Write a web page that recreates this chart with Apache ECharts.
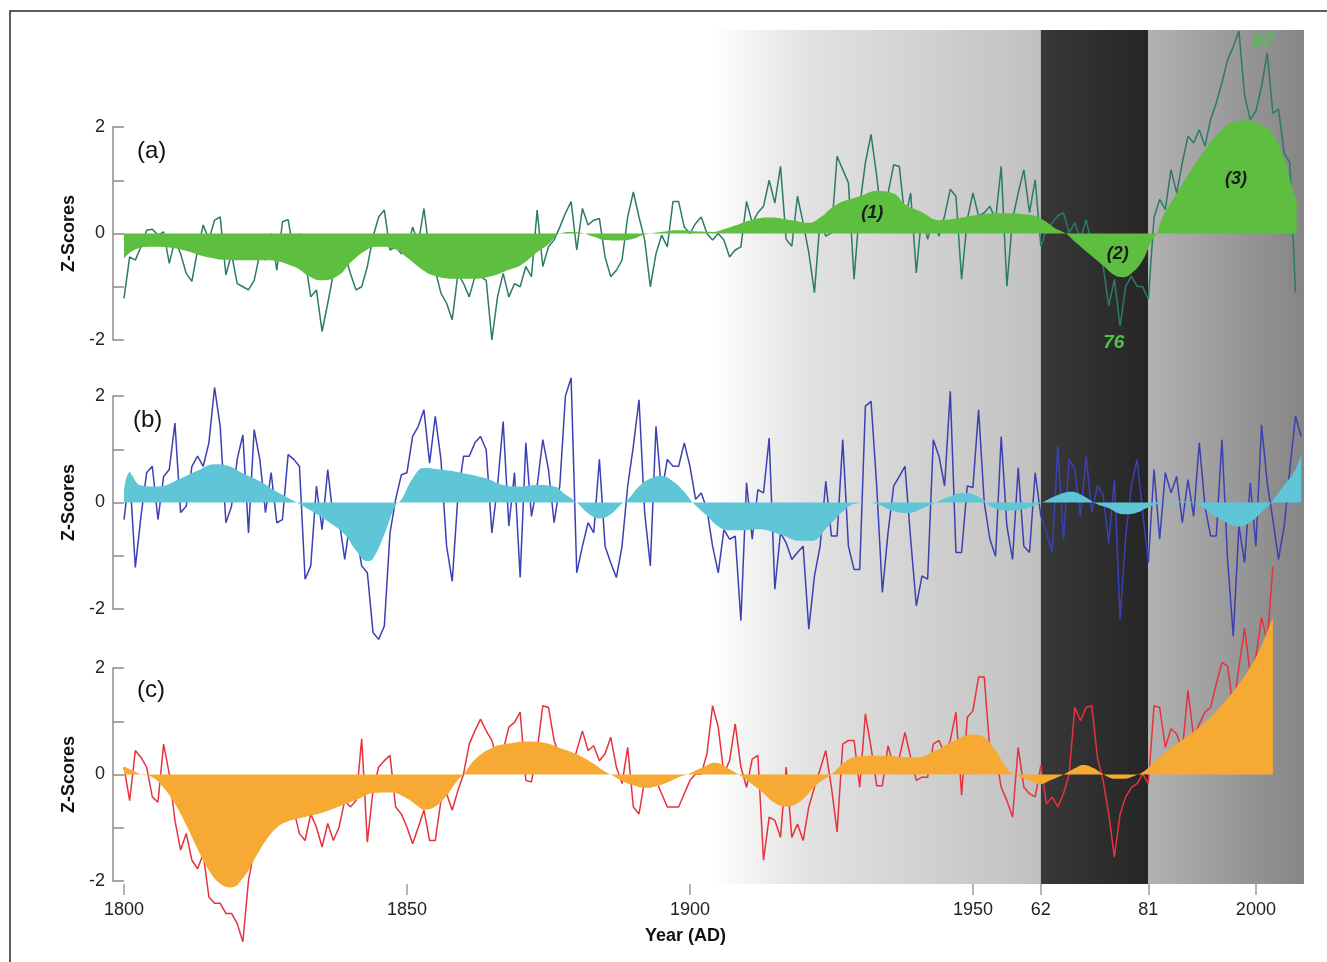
<!DOCTYPE html>
<html>
<head>
<meta charset="utf-8">
<script src="https://cdn.jsdelivr.net/npm/echarts@6/dist/echarts.min.js"></script>
<style>
html,body{margin:0;padding:0;background:#fff;}
#chart{width:1327px;height:962px;}
</style>
</head>
<body>
<div id="chart"></div>
<script>
// ---------- DATA ----------
const startYear = 1800;
const xTicks = [1800, 1850, 1900, 1950, 1962, 1981, 2000];
const yTicks = [-2, -1, 0, 1, 2];

// (a) annual z-scores 1800-2007
const rawA = [
 -1.22,-0.44,-0.5,-0.25,0.06,0.08,-0.03,0.03,-0.56,-0.12,
 -0.38,-0.75,-0.9,-0.31,0.16,-0.12,0.25,0.31,-0.78,-0.38,
 -0.94,-1.0,-1.06,-0.88,-0.38,-0.5,0.0,-0.69,0.22,0.26,
 -0.38,0.0,-0.5,-1.19,-1.06,-1.84,-1.31,-0.75,-0.44,-0.38,
 -0.75,-1.06,-1.0,-0.62,-0.06,0.31,0.44,-0.31,-0.25,-0.38,
 -0.31,0.12,-0.19,0.47,-0.38,-0.69,-1.12,-1.31,-1.62,-0.75,
 -0.94,-1.19,-0.81,-0.81,-0.88,-2.0,-1.19,-0.75,-1.19,-0.94,
 -1.0,-0.62,-0.81,0.44,-0.62,-0.25,-0.12,0.12,0.38,0.6,
 -0.31,0.47,0.16,0.25,0.28,-0.44,-0.81,-0.69,-0.5,0.31,
 0.78,0.31,-0.12,-1.0,-0.38,-0.03,-0.25,0.6,0.6,0.12,
 0.0,0.19,0.31,0.0,-0.12,0.0,-0.12,-0.44,-0.31,-0.25,
 0.6,0.2,0.39,0.51,1.0,0.57,1.26,-0.11,-0.24,0.7,
 0.2,-0.36,-1.11,0.26,-0.05,0.01,1.45,1.2,0.95,-0.86,
 0.51,1.33,1.86,1.08,0.14,0.76,1.29,1.26,0.26,0.76,
 -0.74,0.39,-0.11,0.26,-0.05,0.33,0.83,0.7,-0.86,0.26,
 0.76,0.33,0.39,0.51,0.26,1.26,-0.99,0.26,0.76,1.2,
 0.39,1.01,-0.24,0.08,0.2,0.33,0.39,0.01,0.2,-0.11,
 0.26,-0.24,-0.36,-0.61,-1.36,-0.86,-1.74,-0.99,-0.8,-0.99,
 -1.0,-1.24,0.3,0.64,0.45,1.2,0.76,1.33,1.83,1.7,
 1.95,1.64,2.14,2.45,2.83,3.26,3.51,3.8,2.6,2.14,
 2.3,2.76,3.39,2.26,2.33,1.51,1.33,-1.11
];
// (a) smoothed curve [year, z]
const smoothA = [
 [1800,-0.47],[1802,-0.3],[1805,-0.25],[1810,-0.3],[1815,-0.45],[1820,-0.5],[1825,-0.5],
 [1830,-0.62],[1833,-0.82],[1835,-0.88],[1838,-0.78],[1840,-0.55],[1843,-0.3],[1845,-0.25],
 [1848,-0.3],[1850,-0.45],[1853,-0.7],[1855,-0.8],[1858,-0.85],[1862,-0.85],[1865,-0.8],
 [1868,-0.68],[1870,-0.6],[1873,-0.35],[1875,-0.2],[1877,0],[1879,0.03],[1881,0.01],
 [1883,-0.06],[1885,-0.12],[1888,-0.13],[1890,-0.1],[1892,-0.02],[1895,0.03],[1898,0.06],
 [1901,0.04],[1904,0.03],[1906,0.08],[1908,0.15],[1911,0.26],[1914,0.3],[1918,0.25],
 [1921,0.2],[1923,0.3],[1926,0.55],[1930,0.7],[1933,0.8],[1936,0.75],[1938,0.55],
 [1941,0.4],[1944,0.25],[1947,0.28],[1951,0.35],[1955,0.38],[1960,0.35],[1962.5,0.25],
 [1964.5,0.1],[1966.4,0],[1968,-0.15],[1970.5,-0.38],[1973,-0.6],[1975,-0.78],[1976.5,-0.82],
 [1978,-0.75],[1980,-0.5],[1981.5,-0.15],[1982.5,0],[1983.5,0.3],[1986,0.75],[1988,1.1],
 [1990.5,1.5],[1993.5,1.9],[1996.3,2.1],[1998.4,2.12],[2000.6,2.05],[2002.7,1.9],
 [2004.8,1.45],[2006.2,0.95],[2007.2,0.6]
];

// (b) annual z-scores 1800-2008
const rawB = [
 -0.32,0.56,-1.22,-0.26,0.56,0.68,-0.32,0.49,0.62,1.49,
 -0.19,-0.07,0.68,0.87,0.68,1.12,2.16,1.43,-0.38,-0.07,
 0.81,1.27,-0.57,1.37,0.81,-0.19,0.56,-0.38,-0.32,0.9,
 0.81,0.68,-1.44,-1.19,0.31,-0.51,0.62,-0.32,-0.32,-1.07,
 -0.32,-0.57,-1.19,-1.32,-2.44,-2.57,-2.32,-0.57,0.06,0.52,
 0.56,1.24,1.43,1.74,0.74,1.62,0.81,-0.82,-1.48,0.12,
 0.87,0.87,1.12,1.24,0.99,-0.57,0.31,1.52,-0.44,0.56,
 -1.41,1.12,-0.26,0.31,1.18,0.62,-0.38,0.31,2.0,2.34,
 -1.32,-0.82,-0.38,-0.57,0.81,-0.82,-1.13,-1.41,-0.82,0.31,
 1.06,1.93,-0.19,-1.19,1.43,0.18,0.81,0.68,0.68,1.12,
 0.68,0.06,0.18,-0.13,-0.82,-1.32,-0.51,-0.69,-0.63,-2.22,
 0.37,-0.69,0.24,0.18,1.21,-1.63,-0.57,-0.76,-1.07,-0.94,
 -0.82,-2.38,-1.38,-0.82,0.4,-0.63,-0.63,1.18,-0.82,-1.26,
 -1.26,1.81,1.9,0.31,-1.69,-0.57,0.31,0.49,0.68,-0.69,
 -1.94,-1.38,-1.44,1.18,0.87,0.31,2.09,-0.94,-0.94,0.31,
 0.28,1.74,0.0,-0.69,-1.01,1.24,-0.44,-1.07,0.65,-0.82,
 -0.94,0.56,-0.25,-0.57,-0.94,1.06,-0.69,0.81,0.62,-0.26,
 0.87,-0.19,0.31,0.15,-0.76,0.43,-2.19,-0.63,0.31,0.81,
 -0.19,-1.13,0.62,-0.69,0.56,0.18,0.49,-0.38,0.43,-0.26,
 1.12,-0.07,-0.63,-0.63,1.18,-1.07,-2.51,-0.44,-1.13,0.37,
 -0.82,1.46,0.37,-0.32,-1.07,-0.44,0.62,1.62,1.24
];
const smoothB = [
 [1800,0.2],[1801,0.55],[1803,0.32],[1806,0.3],[1810,0.45],[1813,0.6],[1816,0.72],
 [1818,0.7],[1821,0.55],[1824,0.4],[1827,0.2],[1830.5,0],[1833,-0.15],[1836,-0.35],
 [1839,-0.6],[1841,-0.9],[1843,-1.1],[1844,-1.05],[1846,-0.6],[1848,-0.05],[1849,0.05],
 [1851,0.45],[1853,0.65],[1856,0.62],[1860,0.55],[1864,0.45],[1867,0.33],[1870,0.3],
 [1873,0.33],[1876,0.3],[1878,0.15],[1880,0],[1882,-0.2],[1884,-0.3],[1886,-0.22],
 [1888,-0.02],[1889,0.05],[1891,0.3],[1893,0.45],[1895,0.5],[1897,0.4],[1899,0.2],
 [1900.5,0],[1903,-0.25],[1905,-0.45],[1907,-0.52],[1909,-0.52],[1912,-0.5],[1916,-0.6],
 [1919.5,-0.72],[1921.5,-0.72],[1924.4,-0.45],[1927.2,-0.15],[1929.3,-0.02],[1931.5,0],
 [1933.6,-0.05],[1935.7,-0.15],[1938.5,-0.2],[1941.3,-0.1],[1943.4,0],[1945.6,0.1],
 [1948.4,0.18],[1951.2,0.1],[1953.3,-0.08],[1956.1,-0.15],[1959,-0.12],[1961.8,-0.02],
 [1964.6,0.12],[1967.4,0.2],[1969.5,0.12],[1971.7,-0.02],[1973.8,-0.1],[1976.6,-0.22],
 [1978.7,-0.2],[1980.8,-0.1],[1982.9,-0.02],[1985,0.02],[1987.9,0.02],[1990,-0.05],
 [1992.1,-0.2],[1994.9,-0.38],[1997,-0.45],[1999.2,-0.35],[2001.3,-0.15],[2002.7,0],
 [2004.8,0.3],[2006.9,0.6],[2008,0.9]
];

// (c) annual z-scores 1800-2003
const rawC = [
 0.14,-0.49,0.45,0.32,0.14,-0.42,-0.52,0.57,0.01,-0.86,
 -1.42,-1.11,-1.61,-1.77,-1.49,-2.3,-2.42,-2.42,-2.61,-2.61,
 -2.8,-3.14,-1.99,-1.42,-1.17,-1.11,-1.05,-0.74,-0.86,-0.74,
 -0.67,-1.11,-1.24,-0.74,-0.99,-1.36,-0.92,-1.24,-0.99,-0.49,
 -0.61,-0.49,0.67,-1.27,-0.3,0.14,0.26,0.36,-0.61,-0.74,
 -0.99,-1.3,-0.99,-0.67,-1.24,-1.24,-0.49,-0.36,-0.67,-0.3,
 0.01,0.57,0.82,1.04,0.82,0.64,0.26,0.45,0.89,0.98,
 1.17,-0.11,-0.14,0.45,1.29,1.26,0.64,0.32,0.39,0.07,
 0.45,0.82,0.45,0.54,0.26,0.39,0.7,0.14,-0.17,0.51,
 -0.61,-0.74,-0.11,-0.24,-0.11,-0.36,-0.61,-0.61,-0.61,-0.36,
 -0.11,0.01,0.01,0.39,1.29,0.89,0.01,0.26,0.95,0.14,
 -0.24,0.29,0.36,-1.61,-0.8,-0.86,-1.18,0.14,-1.18,-0.93,
 -1.24,-0.61,-0.24,0.1,0.45,-0.24,-1.08,0.57,0.64,0.64,
 -0.24,1.14,0.51,-0.21,-0.21,0.54,0.14,0.32,0.79,0.32,
 -0.11,-0.05,-0.05,0.57,0.64,0.39,0.64,1.17,-0.39,1.07,
 1.2,1.83,1.83,0.45,0.39,-0.24,-0.49,-0.8,0.51,-0.24,
 -0.36,-0.42,0.17,-0.55,-0.42,-0.61,-0.36,0.01,1.26,1.01,
 1.26,1.29,0.32,-0.11,-0.74,-1.55,-0.74,-0.42,-0.24,-0.17,
 0.01,-0.17,1.29,1.26,0.51,0.86,0.76,0.45,1.58,0.7,
 0.95,1.17,1.26,1.7,2.1,2.04,1.23,2.01,2.75,1.9,
 2.2,2.95,2.5,3.9
];
const smoothC = [
 [1800,0.15],[1802,0.05],[1803,0],[1805,-0.05],[1807,-0.25],[1809,-0.55],[1811,-0.95],
 [1813,-1.4],[1815,-1.8],[1817,-2.05],[1819,-2.12],[1821,-1.95],[1823,-1.6],[1825,-1.25],
 [1827,-1.0],[1829,-0.88],[1832,-0.8],[1835,-0.72],[1838,-0.6],[1841,-0.48],[1844,-0.35],
 [1847,-0.34],[1850,-0.45],[1852,-0.6],[1853,-0.66],[1855,-0.6],[1857,-0.4],[1859,-0.1],
 [1860,0],[1862,0.28],[1865,0.5],[1868,0.58],[1871,0.62],[1874,0.6],[1877,0.5],[1880,0.38],
 [1883,0.2],[1885,0.05],[1886,0],[1888,-0.12],[1890,-0.2],[1892,-0.25],[1894,-0.22],
 [1896,-0.15],[1898,-0.05],[1899.5,0],[1902,0.12],[1904.5,0.22],[1907,0.1],[1909,-0.03],
 [1912.4,-0.3],[1915.2,-0.55],[1917,-0.6],[1919.5,-0.5],[1922.3,-0.2],[1925,0],
 [1927.2,0.22],[1929.3,0.33],[1932.9,0.35],[1936.4,0.34],[1939.9,0.32],[1943.4,0.45],
 [1947,0.65],[1949.8,0.75],[1951.9,0.7],[1954,0.45],[1956.1,0.1],[1957.5,0],[1959.7,-0.1],
 [1961.8,-0.18],[1963.9,-0.1],[1966,0],[1968.1,0.12],[1969.5,0.18],[1971.3,0.12],
 [1973.1,0],[1975.2,-0.08],[1976.6,-0.08],[1978.7,-0.02],[1980.1,0.05],[1982.2,0.25],
 [1985,0.5],[1987.9,0.72],[1990.7,0.95],[1993.5,1.25],[1996.3,1.6],[1999.2,2.05],
 [2001.3,2.5],[2003,2.95]
];

// shaded periods [from, to]
const periodFade = [1800, 1962];
const periodDark = [1962, 1981];
const periodLate = [1981, 2008.5];
const xMin = 1800, xMax = 2008.5;

// annotations [label, year, z]
const notesA = [['(1)', 1932.2, 0.38], ['(2)', 1975.6, -0.39], ['(3)', 1996.5, 1.03]];
const peakNotesA = [['76', 1974.9, -2.05], ['97', 2001.2, 3.6]];
const panelLetters = ['(a)', '(b)', '(c)'];

// ---------- CHART ----------
const FONT = "'Liberation Sans', Arial, Helvetica, sans-serif";
const toPairs = arr => arr.map((v, i) => [startYear + i, v]);
const chart = echarts.init(document.getElementById('chart'), null, {renderer: 'canvas'});

const panelTops = [127, 396, 668];
const panelH = 213;
const gridLeft = 124, gridRight = 23;
const pxPerZ = panelH / 4;

const grids = [{left: gridLeft, right: gridRight, top: 30, bottom: 78}];
panelTops.forEach(t => grids.push({left: gridLeft, right: gridRight, top: t, height: panelH}));

const lg = (stops) => new echarts.graphic.LinearGradient(0, 0, 1, 0, stops);

const xAxes = [{
  gridIndex: 0, type: 'value', min: xMin, max: xMax,
  axisLine: {show: false}, splitLine: {show: false},
  axisTick: {show: true, customValues: xTicks, length: 11, lineStyle: {color: '#9a9a9a', width: 1.5}},
  axisLabel: {customValues: xTicks, margin: 17, fontSize: 18, color: '#222', fontFamily: FONT,
    formatter: v => (v === 1962 ? '62' : v === 1981 ? '81' : String(v))}
}];
const yAxes = [{gridIndex: 0, type: 'value', min: 0, max: 1, show: false}];
for (let i = 1; i <= 3; i++) {
  xAxes.push({gridIndex: i, type: 'value', min: xMin, max: xMax, show: false});
  yAxes.push({
    gridIndex: i, type: 'value', min: -2, max: 2, interval: 1, offset: 11,
    axisLine: {show: true, lineStyle: {color: '#8c8c8c', width: 1.5}},
    axisTick: {show: true, inside: true, length: 11, lineStyle: {color: '#8c8c8c', width: 1.5}},
    axisLabel: {margin: 8, fontSize: 18, color: '#222', fontFamily: FONT,
      formatter: v => (v % 2 === 0 ? String(v) : '')},
    splitLine: {show: false},
    name: 'Z-Scores', nameLocation: 'middle', nameGap: 27,
    nameTextStyle: {fontWeight: 'bold', fontSize: 18, color: '#111', fontFamily: FONT}
  });
}

function rawSeries(idx, data, color) {
  return {type: 'line', xAxisIndex: idx, yAxisIndex: idx, data: data, symbol: 'none',
    clip: false, z: 3, lineStyle: {color: color, width: 1.5}, silent: true};
}
function smoothSeries(idx, data, color, extra) {
  return Object.assign({type: 'line', xAxisIndex: idx, yAxisIndex: idx, data: data, symbol: 'none',
    smooth: 0.45, clip: false, z: 4, lineStyle: {width: 0}, areaStyle: {color: color, opacity: 1},
    silent: true}, extra || {});
}
// marker points must sit inside the -2..2 axis range; labels outside it are shifted by pixels
const clampZ = z => Math.max(-2, Math.min(2, z));
const noteData = (arr, style) => arr.map(n => {
  const zc = clampZ(n[2]);
  return {coord: [n[1], zc], value: n[0],
    label: Object.assign({show: true, position: 'inside', formatter: n[0], fontFamily: FONT,
      offset: [0, -(n[2] - zc) * pxPerZ]}, style)};
});

const series = [
  {
    type: 'line', xAxisIndex: 0, yAxisIndex: 0, data: [], z: 0, silent: true,
    markArea: {
      silent: true,
      data: [
        [{xAxis: periodFade[0], itemStyle: {color: lg([
          {offset: 0, color: '#ffffff'}, {offset: 0.64, color: '#ffffff'},
          {offset: 0.69, color: '#f1f1f1'}, {offset: 0.74, color: '#e3e3e3'},
          {offset: 0.85, color: '#d4d4d4'}, {offset: 0.96, color: '#c6c6c6'},
          {offset: 1, color: '#c0c0c0'}])}}, {xAxis: periodFade[1]}],
        [{xAxis: periodDark[0], itemStyle: {color: lg([
          {offset: 0, color: '#383838'}, {offset: 1, color: '#262626'}])}}, {xAxis: periodDark[1]}],
        [{xAxis: periodLate[0], itemStyle: {color: lg([
          {offset: 0, color: '#b2b2b2'}, {offset: 1, color: '#858585'}])}}, {xAxis: periodLate[1]}]
      ]
    }
  },
  rawSeries(1, toPairs(rawA), '#2c7a68'),
  smoothSeries(1, smoothA, '#5dbe3f', {
    markPoint: {
      symbol: 'circle', symbolSize: 0, silent: true,
      data: noteData(notesA, {fontSize: 18, fontWeight: 'bold', fontStyle: 'italic', color: '#1a1a1a'})
        .concat(noteData(peakNotesA, {fontSize: 19, fontWeight: 'bold', fontStyle: 'italic', color: '#4cc44a'}))
    }
  }),
  rawSeries(2, toPairs(rawB), '#3b40b3'),
  smoothSeries(2, smoothB, '#5ec6d6'),
  rawSeries(3, toPairs(rawC), '#e6323c'),
  smoothSeries(3, smoothC, '#f6aa33')
];

const graphics = [
  {type: 'rect', z: 100, shape: {x: 10, y: 11, width: 1340, height: 980}, style: {fill: 'none', stroke: '#2a2a2a', lineWidth: 1.5}, silent: true},
  {type: 'text', z: 100, left: 645, top: 927, style: {text: 'Year (AD)', font: "bold 18px " + FONT, fill: '#111'}, silent: true}
];
const letterTops = [139, 408, 678];
panelLetters.forEach((t, i) => graphics.push({
  type: 'text', z: 100, left: i === 1 ? 133 : 137, top: letterTops[i],
  style: {text: t, font: "24px " + FONT, fill: '#111'}, silent: true
}));

chart.setOption({
  animation: false,
  backgroundColor: '#ffffff',
  grid: grids,
  xAxis: xAxes,
  yAxis: yAxes,
  series: series,
  graphic: graphics
});
</script>
</body>
</html>
